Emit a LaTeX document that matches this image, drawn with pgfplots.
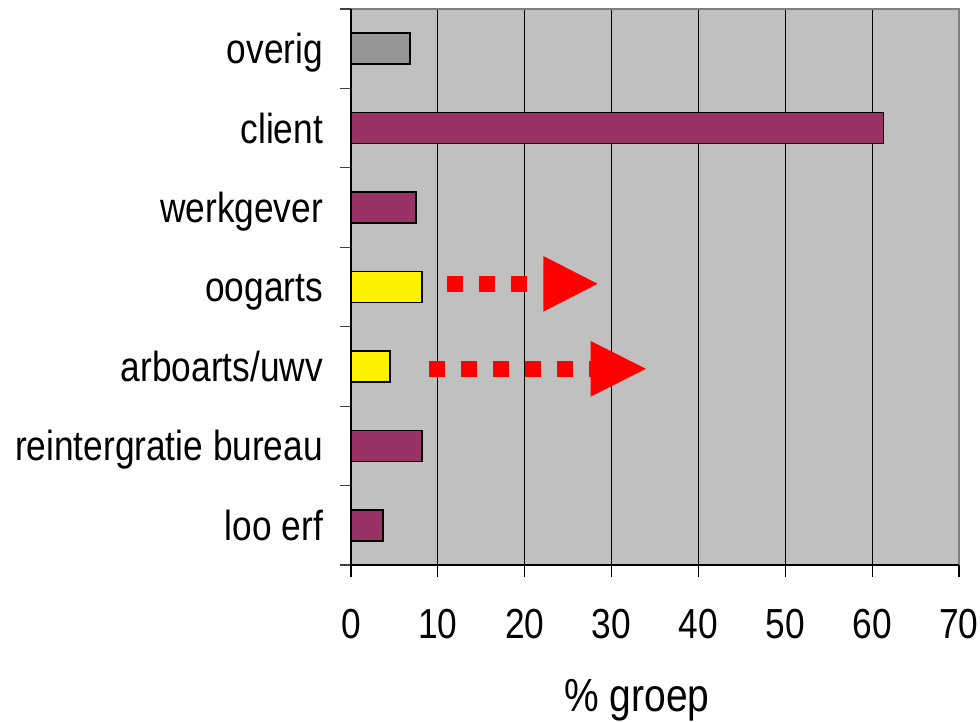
\documentclass[border=0pt]{standalone}
\usepackage{fontspec}
\setmainfont[FakeStretch=0.84]{Liberation Sans}
\usepackage{pgfplots}
\pgfplotsset{compat=1.18}
\definecolor{plum}{HTML}{993366}
\definecolor{bg}{HTML}{C0C0C0}
\definecolor{grayb}{HTML}{969696}
\definecolor{frame}{HTML}{808080}
\begin{document}
\begin{tikzpicture}
\useasboundingbox (-175.5pt,-78.5pt) rectangle (314.5pt,282.5pt);
\begin{axis}[
  scale only axis, width=304pt, height=278pt,
  xmin=0, xmax=70, ymin=-0.5, ymax=6.5,
  axis background/.style={fill=bg},
  axis line style={draw=none},
  xtick={0,10,...,70},
  xtick pos=bottom,
  xmajorgrids, grid style={black, line width=0.5pt},
  ytick={0,...,6},
  yticklabels={loo erf, reintergratie bureau, arboarts/uwv, oogarts, werkgever, client, overig},
  tick align=outside,
  major tick length=6pt,
  ytick style={draw=none},
  xtick style={black, line width=0.6pt},
  /pgf/number format/assume math mode=true,
  ticklabel style={font=\fontsize{21}{24}\selectfont},
  xticklabel style={yshift=-12.5pt},
  yticklabel style={xshift=-4.5pt, text height=15pt, text depth=0pt},
  xlabel={\% groep},
  xlabel style={font=\fontsize{23.2}{28}\selectfont, yshift=-13.5pt, xshift=-9pt},
  clip=false,
]
\addplot[xbar, bar width=15.5pt, bar shift=0pt, fill=plum, draw=black, line width=0.8pt]
  coordinates {(3.7,0) (8.2,1) (7.5,4) (61.3,5)};
\addplot[xbar, bar width=15.5pt, bar shift=0pt, fill=yellow, draw=black, line width=0.8pt]
  coordinates {(4.5,2) (8.2,3)};
\addplot[xbar, bar width=15.5pt, bar shift=0pt, fill=grayb, draw=black, line width=0.8pt]
  coordinates {(6.8,6)};
% dotted arrows
\addplot[red, line width=8pt, dash pattern=on 8pt off 8pt, forget plot]
  coordinates {(11.09,3.04) (20.3,3.04)};
\addplot[red, line width=8pt, dash pattern=on 8pt off 8pt, forget plot]
  coordinates {(8.98,1.97) (28.5,1.97)};
\fill[red] (axis cs:22.14,3.39) -- (axis cs:28.4,3.04) -- (axis cs:22.14,2.69) -- cycle;
\fill[red] (axis cs:27.6,2.32) -- (axis cs:33.96,1.97) -- (axis cs:27.6,1.62) -- cycle;
% category boundary ticks
\draw[black!75, line width=0.6pt]
  (axis cs:0,-0.5) -- ++(-5.5pt,0pt) (axis cs:0,0.5) -- ++(-5.5pt,0pt)
  (axis cs:0,1.5) -- ++(-5.5pt,0pt) (axis cs:0,2.5) -- ++(-5.5pt,0pt)
  (axis cs:0,3.5) -- ++(-5.5pt,0pt) (axis cs:0,4.5) -- ++(-5.5pt,0pt)
  (axis cs:0,5.5) -- ++(-5.5pt,0pt) (axis cs:0,6.5) -- ++(-5.5pt,0pt);
% frame
\draw[frame, line width=1pt] (rel axis cs:0,1) -- (rel axis cs:1,1) -- (rel axis cs:1,0);
\draw[black, line width=1pt] (rel axis cs:0,1) -- (rel axis cs:0,0) -- (rel axis cs:1,0);
\end{axis}
\end{tikzpicture}
\end{document}
